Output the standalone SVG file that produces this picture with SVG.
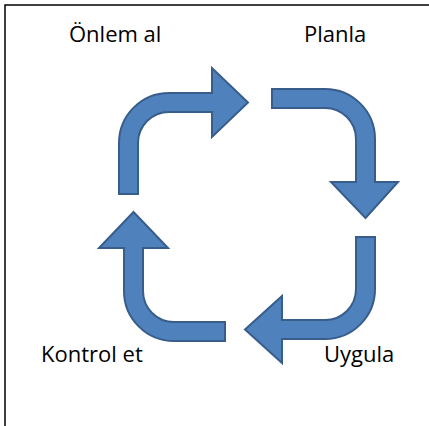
<svg xmlns="http://www.w3.org/2000/svg" width="429" height="426" viewBox="0 0 429 426">
<style>
.arrow{fill:#4F81BD;stroke:#385D8A;stroke-width:2;stroke-linejoin:miter}
.lbl{font-family:"Open Sans","Liberation Sans",Arial,sans-serif;font-size:22px;fill:#000}
.frame{stroke:#000;stroke-width:1.5;fill:none}
</style>
<rect x="0" y="0" width="429" height="426" fill="#fff"/>
<path class="frame" d="M5,426 L5,5 L429,5"/>
<g id="connectors">
<path id="arrow-onlem-planla" class="arrow" d="M119,194 L119,143 A50,50 0 0 1 169,93 L212,93 L212,68 L248,102.5 L212,137 L212,112 L169,112 A31,31 0 0 0 138,143 L138,194 Z"/>
<path id="arrow-planla-uygula" class="arrow" d="M272,89 L325,89 A50,50 0 0 1 375,139 L375,182 L398,182 L365.5,218 L331,182 L356,182 L356,139 A31,31 0 0 0 325,108 L272,108 Z"/>
<path id="arrow-uygula-kontrol" class="arrow" d="M375,237 L375,289 A50,50 0 0 1 325,339 L282,339 L282,363 L245,329.5 L282,296 L282,320 L325,320 A31,31 0 0 0 356,289 L356,237 Z"/>
<path id="arrow-kontrol-onlem" class="arrow" d="M225,341 L174,341 A50,50 0 0 1 124,291 L124,248 L99,248 L133.5,212 L168,248 L143,248 L143,291 A31,31 0 0 0 174,322 L225,322 Z"/>
</g>
<g id="node-onlem"><text class="lbl" x="69" y="41.5">Önlem al</text></g>
<g id="node-planla"><text class="lbl" x="304" y="41.5">Planla</text></g>
<g id="node-kontrol"><text class="lbl" x="41" y="362">Kontrol et</text></g>
<g id="node-uygula"><text class="lbl" x="324" y="362">Uygula</text></g>
</svg>
